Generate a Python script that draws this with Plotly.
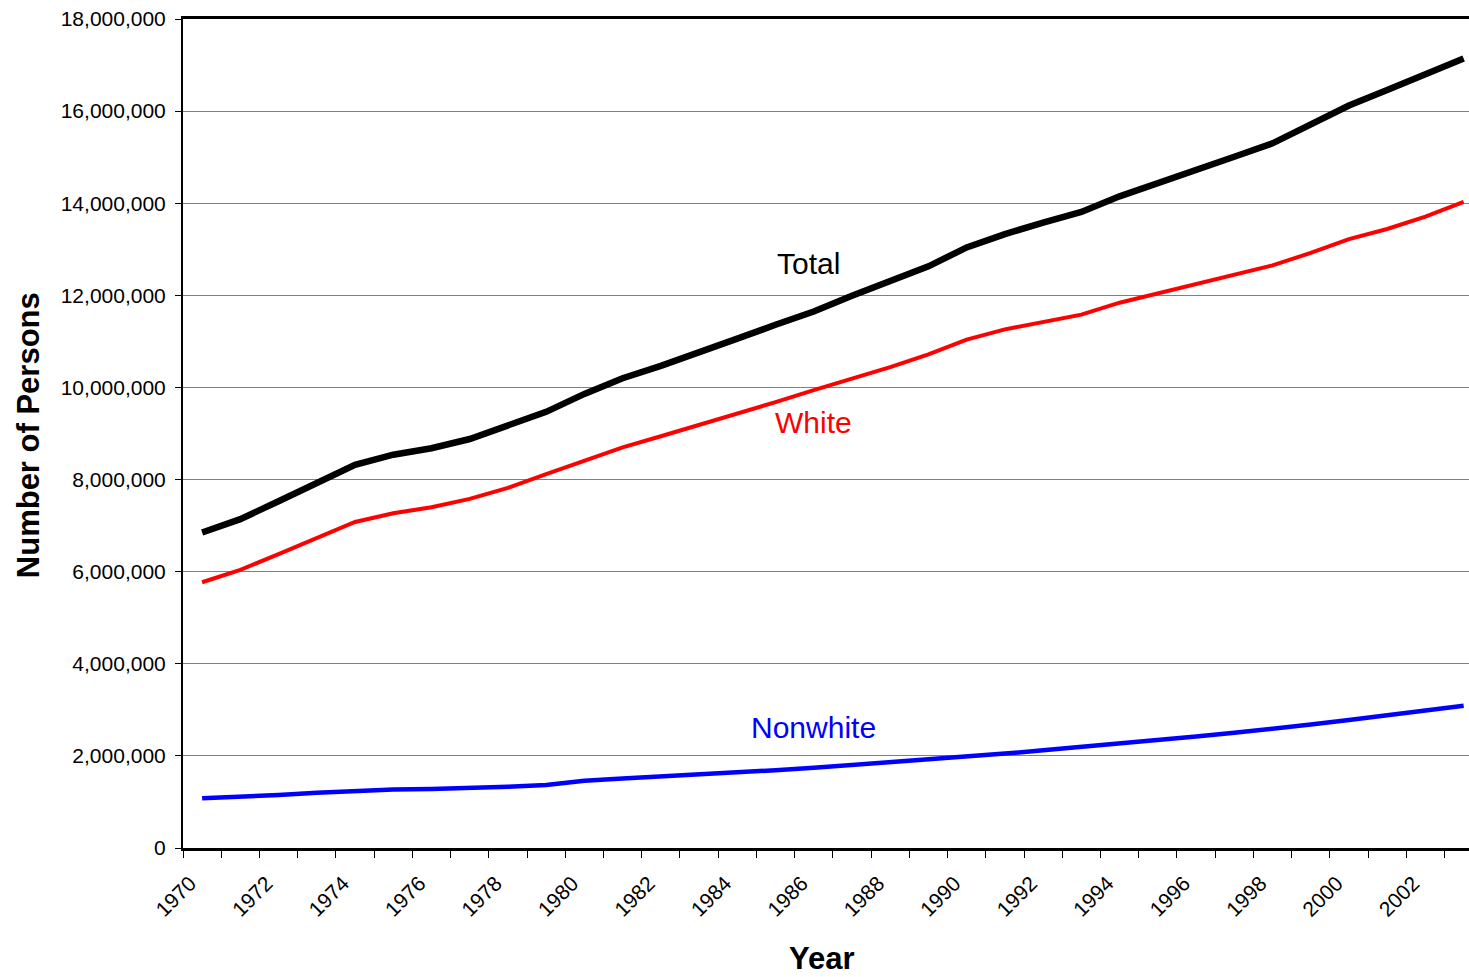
import plotly.graph_objects as go

years = list(range(1970, 2004))
total = [6850000, 7140000, 7530000, 7930000, 8320000, 8540000, 8680000, 8880000, 9160000, 9470000,
         9860000, 10200000, 10470000, 10780000, 11060000, 11360000, 11650000, 11990000, 12300000, 12630000,
         13040000, 13330000, 13580000, 13810000, 14150000, 14430000, 14700000, 15010000, 15300000, 15700000,
         16120000, 16460000, 16790000, 17140000]
white = [5770000, 6040000, 6380000, 6730000, 7080000, 7270000, 7400000, 7580000, 7820000, 8120000,
         8410000, 8700000, 8940000, 9180000, 9420000, 9680000, 9940000, 10190000, 10440000, 10720000,
         11040000, 11260000, 11410000, 11580000, 11840000, 12040000, 12240000, 12440000, 12650000, 12920000,
         13220000, 13440000, 13710000, 14030000]
nonwhite = [1080000, 1110000, 1150000, 1200000, 1240000, 1270000, 1280000, 1300000, 1330000, 1370000,
            1460000, 1510000, 1550000, 1600000, 1640000, 1690000, 1740000, 1800000, 1850000, 1910000,
            1980000, 2050000, 2120000, 2190000, 2260000, 2340000, 2420000, 2500000, 2580000, 2680000,
            2780000, 2880000, 2980000, 3090000]

series_names = ["Total", "White", "Nonwhite"]
series_colors = ["#000000", "#FF0000", "#0000FF"]
series_widths = [6.5, 4, 4.5]
label_x = [1985.85, 1985.98, 1986.0]
label_y = [12700000, 9230000, 2610000]

x_tick_vals = list(range(1970, 2003, 2))
x_tick_text = [str(v) for v in x_tick_vals]
y_tick_vals = list(range(0, 18000001, 2000000))

FONT = "Arial, 'Liberation Sans', sans-serif"

fig = go.Figure()
for name, vals, col, w in zip(series_names, [total, white, nonwhite], series_colors, series_widths):
    fig.add_trace(go.Scatter(x=years, y=vals, mode="lines", name=name,
                             line=dict(color=col, width=w), showlegend=False))

for name, col, lx, ly in zip(series_names, series_colors, label_x, label_y):
    fig.add_annotation(x=lx, y=ly, xref="x", yref="y", text=name, showarrow=False,
                       font=dict(family=FONT, size=30, color=col), xanchor="center", yanchor="middle")

fig.add_annotation(x=0.497, y=-0.1327, xref="paper", yref="paper", text="<b>Year</b>", showarrow=False,
                   font=dict(family=FONT, size=31, color="black"), xanchor="center", yanchor="middle")
fig.add_annotation(x=-0.1205, y=0.498, xref="paper", yref="paper", text="<b>Number of Persons</b>",
                   showarrow=False, textangle=-90,
                   font=dict(family=FONT, size=31, color="black"), xanchor="center", yanchor="middle")

fig.update_layout(
    width=1469, height=977,
    margin=dict(l=183, r=0, t=19, b=129),
    paper_bgcolor="white", plot_bgcolor="white",
    font=dict(family=FONT, color="black"),
    xaxis=dict(
        range=[1969.5, 2003.14],
        tickmode="array", tickvals=x_tick_vals, ticktext=x_tick_text,
        tickangle=-45, ticks="", tickfont=dict(size=21, family=FONT, color="black"),
        ticklabelstandoff=12, ticklabelshift=-12,
        showgrid=False, zeroline=False,
        showline=True, linecolor="black", linewidth=2.5, mirror=True,
        minor=dict(tick0=1969.5, dtick=1, ticks="outside", ticklen=7, tickcolor="black",
                   tickwidth=1, showgrid=False),
    ),
    yaxis=dict(
        range=[0, 18000000],
        tickmode="array", tickvals=y_tick_vals,
        tickformat=",d",
        ticks="outside", ticklen=6, tickcolor="black", tickwidth=1,
        tickfont=dict(size=21, family=FONT, color="black"),
        ticklabelstandoff=5,
        showgrid=True, gridcolor="#808080", gridwidth=1,
        zeroline=False,
        showline=True, linecolor="black", linewidth=2,
    ),
)

fig.write_html("out.html", config={"displayModeBar": False},
               post_script="document.body.style.margin='0';document.body.style.overflow='hidden';")
